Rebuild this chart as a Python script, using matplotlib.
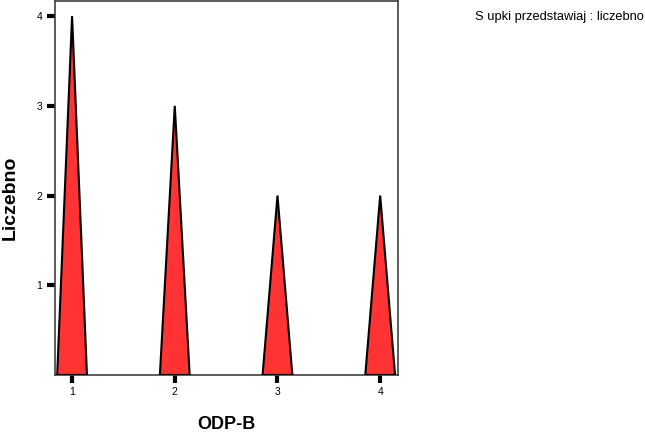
import matplotlib
matplotlib.use("Agg")
import matplotlib.pyplot as plt

categories = [1, 2, 3, 4]
counts = [4, 3, 2, 2]
tick_labels = ["1", "2", "3", "4"]

plt.rcParams["font.family"] = ["Liberation Sans", "DejaVu Sans"]

fig = plt.figure(figsize=(6.45, 4.36), dpi=100)
ax = fig.add_axes([0.0853, 0.140, 0.532, 0.858])

half = 0.145
for c, n in zip(categories, counts):
    ax.fill([c - half, c, c + half], [0, n, 0], facecolor="#ff3333",
            edgecolor="black", linewidth=1.5, joinstyle="miter", zorder=3)

ax.set_xlim(0.834, 4.175)
ax.set_ylim(0, 4.17)
ax.set_xticks(categories)
ax.set_xticklabels(tick_labels)
ax.set_yticks([1, 2, 3, 4])
ax.tick_params(axis="both", length=6, width=3, labelsize=7.5, pad=3, color="black")
for s in ax.spines.values():
    s.set_color("#404040")
    s.set_linewidth(1.2)

ax.set_xlabel("ODP-B", fontsize=13, fontweight="bold", labelpad=13)
ax.set_ylabel("Liczebno", fontsize=14, fontweight="bold")
ax.yaxis.set_label_coords(-0.105, 0.474)

fig.text(0.737, 0.961, "S upki przedstawiaj : liczebno", fontsize=9.3,
         va="center", ha="left")

fig.savefig("out.png", dpi=100)
